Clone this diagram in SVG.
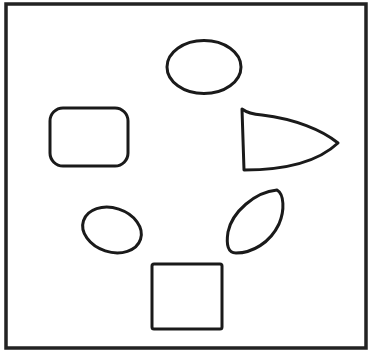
<svg xmlns="http://www.w3.org/2000/svg" width="370" height="355" viewBox="0 0 370 355">
<style>
.s{fill:none;stroke:#1a1a1a;stroke-width:3;stroke-linejoin:round}
</style>
<rect width="370" height="355" fill="#fff"/>
<rect id="frame" x="6" y="4" width="360" height="344" fill="none" stroke="#222" stroke-width="3.5"/>
<g id="ellipse"><ellipse class="s" cx="204" cy="67" rx="37" ry="26.5"/></g>
<g id="roundrect"><rect class="s" x="50" y="108" width="78" height="58" rx="13"/></g>
<g id="bullet"><path class="s" d="M242,109 C246,112 250,114 262,115 C295,119 322,130 338,143 C320,160 290,170 244,170 Z"/></g>
<g id="smallellipse"><ellipse class="s" cx="112" cy="230" rx="30" ry="22" transform="rotate(18 112 230)"/></g>
<g id="leaf"><path class="s" d="M277,190 C284,194 285,210 279,224 C270,243 252,253 236,253 C228,253 226,245 228,232 C232,212 255,192 277,190 Z"/></g>
<g id="square"><rect class="s" x="152" y="264" width="70" height="65" rx="2"/></g>
<g id="connectors"></g>
</svg>
